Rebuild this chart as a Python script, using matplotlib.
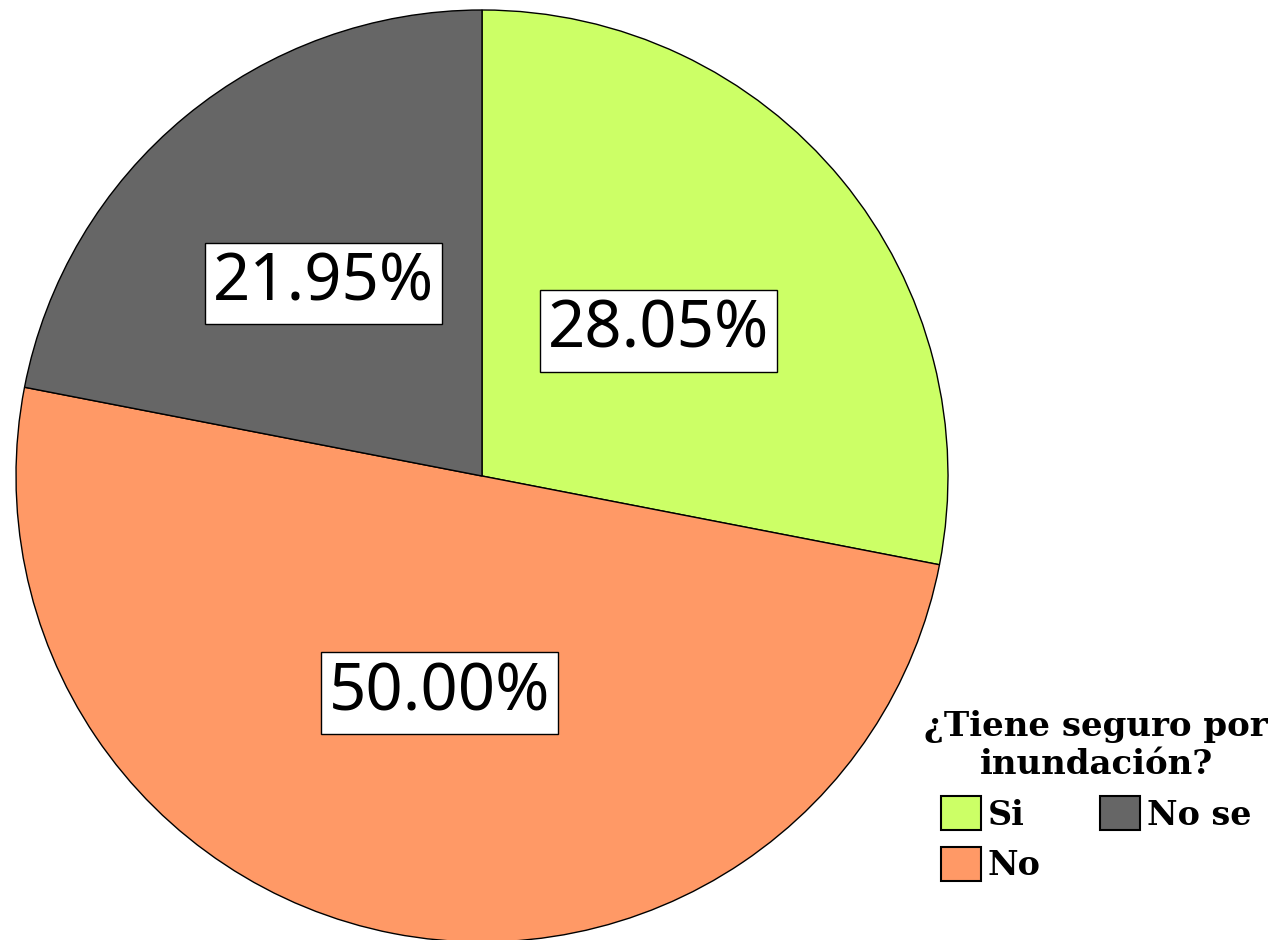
import matplotlib
matplotlib.use("Agg")
import matplotlib.pyplot as plt
import numpy as np

# Daten
categories = ["Si", "No", "No se"]
values = [28.05, 50.00, 21.95]
colors = ["#ccff66", "#ff9966", "#666666"]
legend_title = "¿Tiene seguro por\ninundación?"

W, H = 1272, 940
fig = plt.figure(figsize=(W / 100, H / 100), dpi=100)

# Pie-Achse: Zentrum (482, 476), Radius 466 px
cx, cy, r = 482, 476, 466
ax = fig.add_axes([(cx - r) / W, (H - cy - r) / H, 2 * r / W, 2 * r / H])

wedges, texts, autotexts = ax.pie(
    values,
    colors=colors,
    startangle=90,
    counterclock=False,
    autopct="%.2f%%",
    pctdistance=0.49,
    wedgeprops=dict(edgecolor="black", linewidth=1),
    textprops=dict(fontsize=47, family="Noto Sans", color="black"),
)
# Abstand der Beschriftungen vom Zentrum je Segment
label_dist = [0.49, 0.475, 0.535]
for w, t, d in zip(wedges, autotexts, label_dist):
    ang = np.deg2rad((w.theta1 + w.theta2) / 2)
    t.set_position((d * np.cos(ang), d * np.sin(ang)))
    t.set_bbox(dict(boxstyle="square,pad=0.12", facecolor="white",
                    edgecolor="black", linewidth=1))
ax.set_xlim(-1, 1)
ax.set_ylim(-1, 1)
ax.axis("off")

leg = fig.legend(
    wedges, categories,
    title=legend_title,
    loc="upper center",
    bbox_to_anchor=(1096 / W, 1 - 680 / H),
    ncol=2,
    frameon=False,
    alignment="center",
    prop=dict(family="DejaVu Serif", weight="bold", size=24),
    title_fontproperties=dict(family="DejaVu Serif", weight="bold", size=24.5),
    handlelength=1.2,
    handleheight=1.2,
    handletextpad=0.2,
    columnspacing=1.8,
    labelspacing=0.45,
)
leg.get_title().set_multialignment("center")
for p in leg.get_patches():
    p.set_edgecolor("black")
    p.set_linewidth(1.5)

fig.savefig("out.png", dpi=100)
